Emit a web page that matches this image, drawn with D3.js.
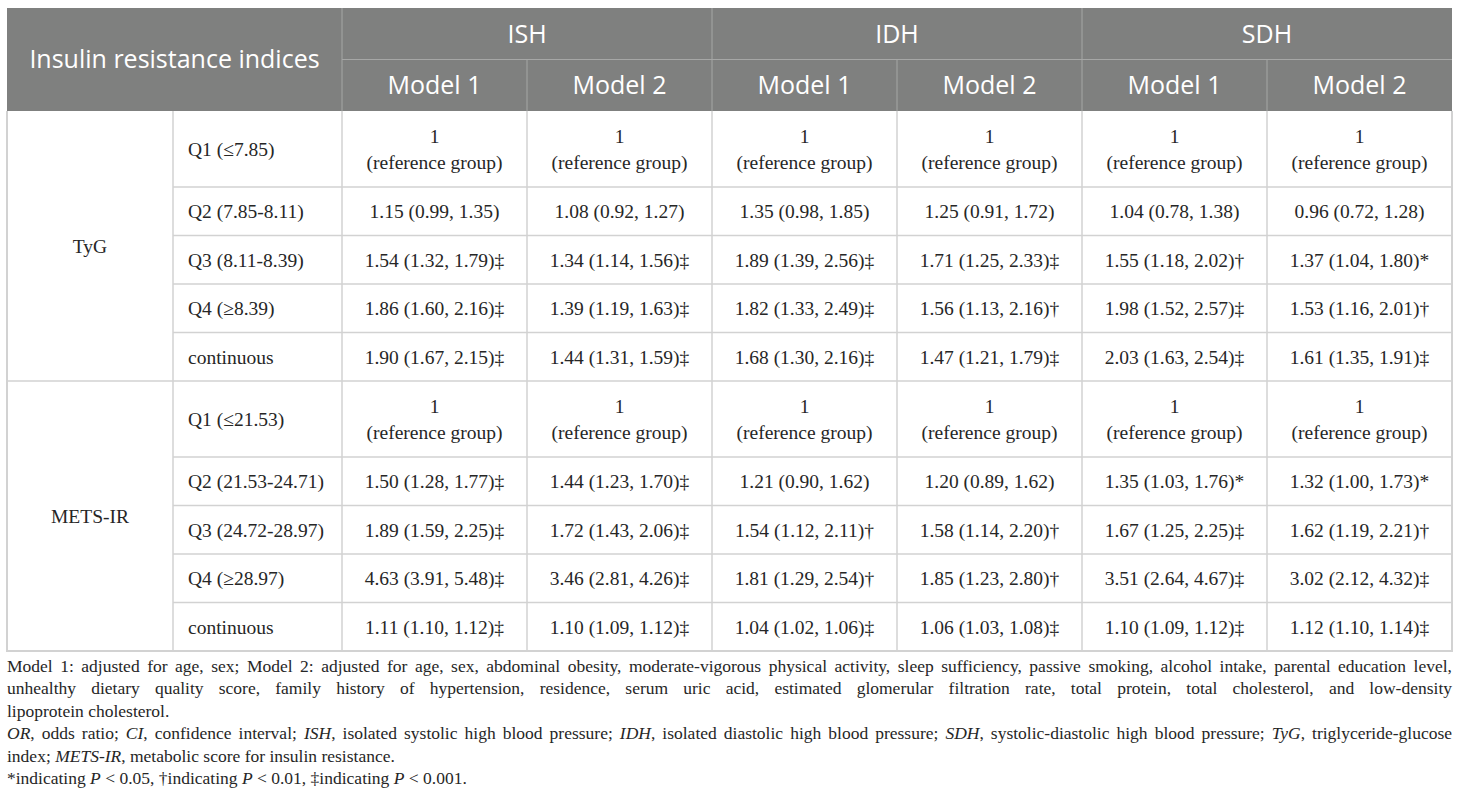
<!DOCTYPE html>
<html>
<head>
<meta charset="utf-8">
<script src="https://cdn.jsdelivr.net/npm/d3@7"></script>
<style>
  body { margin: 0; background: #fff; }
</style>
</head>
<body>
<script>
// table content
const outcomes = ["ISH", "IDH", "SDH"];
const models = ["Model 1", "Model 2"];
const indices = ["TyG", "METS-IR"];
const tygLevels = ["Q1 (≤7.85)", "Q2 (7.85-8.11)", "Q3 (8.11-8.39)", "Q4 (≥8.39)", "continuous"];
const metsLevels = ["Q1 (≤21.53)", "Q2 (21.53-24.71)", "Q3 (24.72-28.97)", "Q4 (≥28.97)", "continuous"];

// each entry: [OR, lower CI, upper CI, significance mark]; null = reference group
const ishM1 = [null, [1.15, 0.99, 1.35, ""], [1.54, 1.32, 1.79, "‡"], [1.86, 1.60, 2.16, "‡"], [1.90, 1.67, 2.15, "‡"],
               null, [1.50, 1.28, 1.77, "‡"], [1.89, 1.59, 2.25, "‡"], [4.63, 3.91, 5.48, "‡"], [1.11, 1.10, 1.12, "‡"]];
const ishM2 = [null, [1.08, 0.92, 1.27, ""], [1.34, 1.14, 1.56, "‡"], [1.39, 1.19, 1.63, "‡"], [1.44, 1.31, 1.59, "‡"],
               null, [1.44, 1.23, 1.70, "‡"], [1.72, 1.43, 2.06, "‡"], [3.46, 2.81, 4.26, "‡"], [1.10, 1.09, 1.12, "‡"]];
const idhM1 = [null, [1.35, 0.98, 1.85, ""], [1.89, 1.39, 2.56, "‡"], [1.82, 1.33, 2.49, "‡"], [1.68, 1.30, 2.16, "‡"],
               null, [1.21, 0.90, 1.62, ""], [1.54, 1.12, 2.11, "†"], [1.81, 1.29, 2.54, "†"], [1.04, 1.02, 1.06, "‡"]];
const idhM2 = [null, [1.25, 0.91, 1.72, ""], [1.71, 1.25, 2.33, "‡"], [1.56, 1.13, 2.16, "†"], [1.47, 1.21, 1.79, "‡"],
               null, [1.20, 0.89, 1.62, ""], [1.58, 1.14, 2.20, "†"], [1.85, 1.23, 2.80, "†"], [1.06, 1.03, 1.08, "‡"]];
const sdhM1 = [null, [1.04, 0.78, 1.38, ""], [1.55, 1.18, 2.02, "†"], [1.98, 1.52, 2.57, "‡"], [2.03, 1.63, 2.54, "‡"],
               null, [1.35, 1.03, 1.76, "*"], [1.67, 1.25, 2.25, "‡"], [3.51, 2.64, 4.67, "‡"], [1.10, 1.09, 1.12, "‡"]];
const sdhM2 = [null, [0.96, 0.72, 1.28, ""], [1.37, 1.04, 1.80, "*"], [1.53, 1.16, 2.01, "†"], [1.61, 1.35, 1.91, "‡"],
               null, [1.32, 1.00, 1.73, "*"], [1.62, 1.19, 2.21, "†"], [3.02, 2.12, 4.32, "‡"], [1.12, 1.10, 1.14, "‡"]];

const footnotes = [
  [[["Model 1: adjusted for age, sex; Model 2: adjusted for age, sex, abdominal obesity, moderate-vigorous physical activity, sleep sufficiency, passive smoking, alcohol intake, parental education level,"]],
   [["unhealthy dietary quality score, family history of hypertension, residence, serum uric acid, estimated glomerular filtration rate, total protein, total cholesterol, and low-density"]],
   [["lipoprotein cholesterol."]]],
  [[["OR", 1], [", odds ratio; "], ["CI", 1], [", confidence interval; "], ["ISH", 1], [", isolated systolic high blood pressure; "], ["IDH", 1], [", isolated diastolic high blood pressure; "], ["SDH", 1], [", systolic-diastolic high blood pressure; "], ["TyG", 1], [", triglyceride-glucose"]],
   [["index; "], ["METS-IR", 1], [", metabolic score for insulin resistance."]]],
  [[["*indicating "], ["P", 1], [" < 0.05, †indicating "], ["P", 1], [" < 0.01, ‡indicating "], ["P", 1], [" < 0.001."]]]
];

const series = [ishM1, ishM2, idhM1, idhM2, sdhM1, sdhM2];

function main() {
    let width = 1460, height = 811;
    let left = 7, right = 1452, top = 8;
    let labelX = 173, dataX = 342;
    let headH = 51.5;
    let serif = "'Liberation Serif', 'Times New Roman', serif";
    let sans = "'Open Sans', Lato, sans-serif";
    let headFill = "#7f807f", headLine = "#a6a7a6", gridLine = "#d2d2d2";
    let ink = "#262626";
    let bodySize = "19.5px";

    let svg = d3.select("body").append("svg")
        .attr("width", width)
        .attr("height", height);

    // row list
    let rows = [];
    indices.forEach(function(ind, gi){
        let levels = gi == 0 ? tygLevels : metsLevels;
        levels.forEach(function(l, li){
            rows.push({index: ind, label: l, ref: li == 0, k: rows.length});
        });
    });

    // row heights: reference rows hold two lines
    let yPos = [top + 2 * headH];
    rows.forEach(function(r){
        yPos.push(yPos[yPos.length - 1] + (r.ref ? 76 : 48.5));
    });
    let bodyTop = yPos[0], bodyBottom = yPos[yPos.length - 1];

    let colNames = [];
    outcomes.forEach(function(o){ models.forEach(function(m){ colNames.push(o + "|" + m); }); });
    let x = d3.scaleBand().domain(colNames).range([dataX, right]);
    let xo = d3.scaleBand().domain(outcomes).range([dataX, right]);

    // header
    let head = svg.append("g");
    head.append("rect")
        .attr("x", left).attr("y", top)
        .attr("width", right - left).attr("height", 2 * headH)
        .attr("fill", headFill);

    head.selectAll("line.v")
        .data(colNames.slice(1))
        .enter().append("line")
        .attr("x1", d => x(d)).attr("x2", d => x(d))
        .attr("y1", d => d.endsWith("Model 1") ? top : top + headH)
        .attr("y2", top + 2 * headH)
        .attr("stroke", headLine);
    head.append("line")
        .attr("x1", dataX).attr("x2", dataX)
        .attr("y1", top).attr("y2", top + 2 * headH)
        .attr("stroke", headLine);
    head.append("line")
        .attr("x1", dataX).attr("x2", right)
        .attr("y1", top + headH).attr("y2", top + headH)
        .attr("stroke", headLine);

    head.append("text")
        .attr("x", (left + dataX) / 2).attr("y", top + headH)
        .attr("dy", "0.35em")
        .attr("text-anchor", "middle")
        .attr("font-family", sans).attr("font-size", "25px")
        .attr("fill", "white")
        .text("Insulin resistance indices");

    head.selectAll("text.outcome")
        .data(outcomes)
        .enter().append("text")
        .attr("x", d => xo(d) + xo.bandwidth() / 2)
        .attr("y", top + headH / 2)
        .attr("dy", "0.35em")
        .attr("text-anchor", "middle")
        .attr("font-family", sans).attr("font-size", "25px")
        .attr("fill", "white")
        .text(d => d);

    head.selectAll("text.model")
        .data(colNames)
        .enter().append("text")
        .attr("x", d => x(d) + x.bandwidth() / 2)
        .attr("y", top + headH * 1.5)
        .attr("dy", "0.35em")
        .attr("text-anchor", "middle")
        .attr("font-family", sans).attr("font-size", "25px")
        .attr("fill", "white")
        .text(d => d.split("|")[1]);

    // body grid
    let body = svg.append("g");
    body.selectAll("line.h")
        .data(rows.slice(1))
        .enter().append("line")
        .attr("x1", d => d.ref ? left : labelX)
        .attr("x2", right)
        .attr("y1", d => yPos[d.k]).attr("y2", d => yPos[d.k])
        .attr("stroke", gridLine).attr("stroke-width", 1.5);

    body.selectAll("line.bv")
        .data([labelX, dataX].concat(colNames.slice(1).map(d => x(d))))
        .enter().append("line")
        .attr("x1", d => d).attr("x2", d => d)
        .attr("y1", bodyTop).attr("y2", bodyBottom)
        .attr("stroke", gridLine).attr("stroke-width", 1.5);

    body.append("path")
        .attr("d", "M" + left + "," + bodyTop + "V" + bodyBottom + "H" + right + "V" + bodyTop)
        .attr("fill", "none")
        .attr("stroke", gridLine).attr("stroke-width", 2);

    // group labels
    body.selectAll("text.group")
        .data(indices)
        .enter().append("text")
        .attr("x", (left + labelX) / 2)
        .attr("y", function(d, i){ return (yPos[i * 5] + yPos[i * 5 + 5]) / 2; })
        .attr("dy", "0.35em")
        .attr("text-anchor", "middle")
        .attr("font-family", serif).attr("font-size", bodySize)
        .attr("fill", ink)
        .text(d => d);

    body.selectAll("text.level")
        .data(rows)
        .enter().append("text")
        .attr("x", labelX + 15)
        .attr("y", d => (yPos[d.k] + yPos[d.k + 1]) / 2)
        .attr("dy", "0.35em")
        .attr("font-family", serif).attr("font-size", bodySize)
        .attr("fill", ink)
        .text(d => d.label);

    // cells
    let f = d3.format(".2f");
    series.forEach(function(s, si){
        let cx = x(colNames[si]) + x.bandwidth() / 2;
        let cells = body.selectAll("text.c" + si)
            .data(s)
            .enter().append("text")
            .attr("x", cx)
            .attr("y", (d, i) => (yPos[i] + yPos[i + 1]) / 2)
            .attr("text-anchor", "middle")
            .attr("font-family", serif).attr("font-size", bodySize)
            .attr("fill", ink);
        cells.filter(d => d != null)
            .attr("dy", "0.35em")
            .text(d => f(d[0]) + " (" + f(d[1]) + ", " + f(d[2]) + ")" + d[3]);
        cells.filter(d => d == null).each(function(){
            let t = d3.select(this);
            t.append("tspan").attr("x", cx).attr("dy", -6).text("1");
            t.append("tspan").attr("x", cx).attr("dy", 26).text("(reference group)");
        });
    });

    // footnotes
    let fy = bodyBottom + 21;
    let lineH = 22.4;
    let notes = svg.append("g");
    footnotes.forEach(function(par){
        par.forEach(function(line, li){
            let t = notes.append("text")
                .attr("x", left).attr("y", fy)
                .attr("font-family", serif).attr("font-size", "17.5px")
                .attr("fill", ink)
                .attr("xml:space", "preserve");
            line.forEach(function(seg){
                t.append("tspan")
                    .attr("font-style", seg[1] ? "italic" : "normal")
                    .text(seg[0]);
            });
            // justify every line except the last of a paragraph
            if (li < par.length - 1) {
                let full = line.map(s => s[0]).join("");
                let spaces = (full.match(/ /g) || []).length;
                let natural = t.node().getComputedTextLength();
                let extra = (right - left) - natural;
                if (extra / spaces > -2) {
                    t.attr("word-spacing", extra / spaces);
                } else {
                    t.attr("textLength", right - left).attr("lengthAdjust", "spacingAndGlyphs");
                }
            }
            fy += lineH;
        });
    });
}

main();
</script>
</body>
</html>
